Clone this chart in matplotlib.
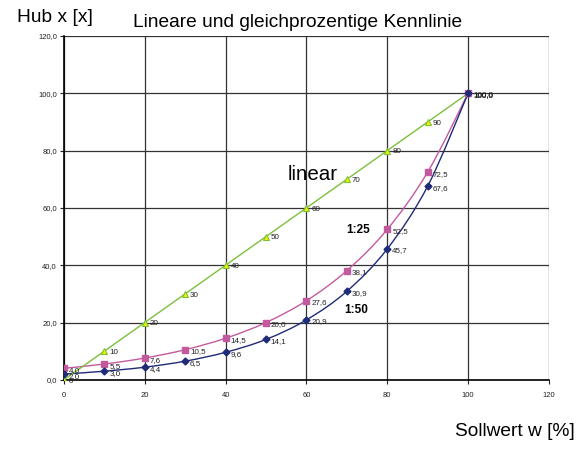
import numpy as np
import matplotlib.pyplot as plt
from matplotlib.path import Path
from matplotlib.patches import PathPatch

plt.rcParams['font.family'] = ['Liberation Sans', 'DejaVu Sans']

# Sollwert w [%]
w = [0, 10, 20, 30, 40, 50, 60, 70, 80, 90, 100]
# Hub x fuer lineare und gleichprozentige Kennlinien
hub_linear = [0, 10, 20, 30, 40, 50, 60, 70, 80, 90, 100]
hub_1_25 = [4.0, 5.5, 7.6, 10.5, 14.5, 20.0, 27.6, 38.1, 52.5, 72.5, 100.0]
hub_1_50 = [2.0, 3.0, 4.4, 6.5, 9.6, 14.1, 20.9, 30.9, 45.7, 67.6, 100.0]
x_ticks = [0, 20, 40, 60, 80, 100, 120]
y_ticks = [0, 20, 40, 60, 80, 100, 120]


def smooth_path(xs, ys):
    """Catmull-Rom Kurve als Bezier-Pfad (wie geglaettete Linien in Excel)"""
    pts = np.column_stack([xs, ys]).astype(float)
    verts = [pts[0]]
    codes = [Path.MOVETO]
    n = len(pts)
    for i in range(n - 1):
        p0 = pts[max(i - 1, 0)]
        p1 = pts[i]
        p2 = pts[i + 1]
        p3 = pts[min(i + 2, n - 1)]
        c1 = p1 + (p2 - p0) / 6.0
        c2 = p2 - (p3 - p1) / 6.0
        verts += [c1, c2, p2]
        codes += [Path.CURVE4] * 3
    return Path(verts, codes)


fig = plt.figure(figsize=(5.76, 4.5), dpi=100)
ax = fig.add_axes([0.111, 0.156, 0.842, 0.764])

col_lin = '#7cbf3a'
col_25 = '#c45a9e'
col_50 = '#1f2a78'

# linear: gerade Verbindung
ax.plot(w, hub_linear, color=col_lin, lw=1.0, marker='^', ms=5,
        mfc='#f2f200', mec=col_lin, mew=0.8, zorder=4)

# gleichprozentig: geglaettet
for ys, col, mk, ms in [(hub_1_25, col_25, 's', 5), (hub_1_50, col_50, 'D', 3.5)]:
    ax.add_patch(PathPatch(smooth_path(w, ys), fc='none', ec=col, lw=1.0, zorder=3))
    ax.plot(w, ys, ls='none', marker=mk, ms=ms, mfc=col, mec=col, zorder=4)

# Datenbeschriftungen
lab_kw = dict(fontsize=5.8, ha='left', va='center', color='#222222',
              textcoords='offset points', zorder=5)
for xv, yv in zip(w, hub_linear):
    txt = '100,0' if yv == 100 else f'{yv:d}'
    ax.annotate(txt, (xv, yv), xytext=(3.5, -1), **lab_kw)
for ys in (hub_1_25, hub_1_50):
    for xv, yv in zip(w, ys):
        ax.annotate(f'{yv:.1f}'.replace('.', ','), (xv, yv), xytext=(3.5, -1.5), **lab_kw)

ax.set_xlim(0, 120)
ax.set_ylim(0, 120)
ax.set_xticks(x_ticks)
ax.set_yticks(y_ticks)
ax.set_yticklabels([f'{v:.1f}'.replace('.', ',') for v in y_ticks])
ax.tick_params(labelsize=5.5, length=3, width=0.8, pad=2, colors='#222222')
ax.tick_params(axis='x', pad=6)
ax.grid(True, color='#333333', lw=0.9)
ax.set_axisbelow(True)
for side in ('top', 'right'):
    ax.spines[side].set_visible(False)
for side in ('left', 'bottom'):
    ax.spines[side].set_color('black')
    ax.spines[side].set_linewidth(1.2)

# Beschriftungen
fig.text(0.03, 0.96, 'Hub x [x]', fontsize=13.8, ha='left', va='center')
fig.text(0.517, 0.949, 'Lineare und gleichprozentige Kennlinie', fontsize=13.8,
         ha='center', va='center')
fig.text(0.997, 0.04, 'Sollwert w [%]', fontsize=13.8, ha='right', va='center')
ax.text(55.4, 71.5, 'linear', fontsize=14.8, ha='left', va='center')
ax.text(69.8, 52.3, '1:25', fontsize=8.5, fontweight='bold', ha='left', va='center')
ax.text(69.3, 24.4, '1:50', fontsize=8.5, fontweight='bold', ha='left', va='center')

fig.savefig('out.png', dpi=100)
